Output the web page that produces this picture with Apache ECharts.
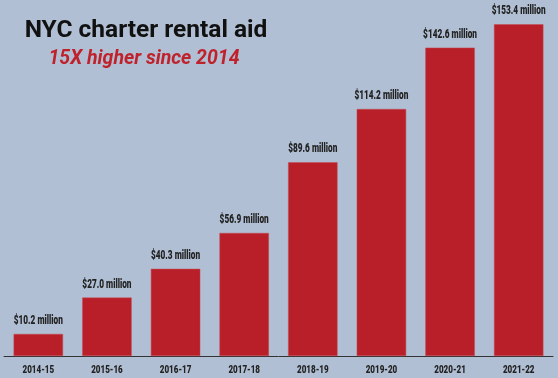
<!DOCTYPE html>
<html><head><meta charset="utf-8">
<script src="https://cdn.jsdelivr.net/npm/echarts@6/dist/echarts.min.js"></script>
<style>html,body{margin:0;padding:0;background:#b0bfd4}#c{width:558px;height:378px}</style>
</head><body><div id="c"></div>
<script>
var categories = ["2014-15","2015-16","2016-17","2017-18","2018-19","2019-20","2020-21","2021-22"];
var values = [10.2, 27.0, 40.3, 56.9, 89.6, 114.2, 142.6, 153.4];
var titleText = "NYC charter rental aid";
var subtitleText = "15X higher since 2014";

function fmt(v){ return '$' + v.toFixed(1) + ' million'; }

var chart = echarts.init(document.getElementById('c'));
chart.setOption({
  backgroundColor: '#b0bfd4',
  animation: false,
  title: [{
    text: titleText, left: 141, textAlign: 'center', top: 13,
    textStyle: {fontFamily: 'Roboto', fontWeight: 'bold', fontSize: 24.5, color: '#111'}
  }, {
    text: subtitleText, left: 139, textAlign: 'center', top: 44,
    textStyle: {fontFamily: 'Roboto', fontWeight: 'bold', fontStyle: 'italic', fontSize: 19.5, color: '#c0222b'}
  }],
  grid: {left: 4, right: 5, top: 10, bottom: 22},
  xAxis: {
    type: 'category', data: categories,
    axisLine: {lineStyle: {color: '#333', width: 1}},
    axisTick: {inside: true, length: 6, lineStyle: {color: '#333'}},
    axisLabel: {show: false}
  },
  yAxis: {type: 'value', min: 0, max: 160, show: false, splitLine: {show: false}},
  series: [{
    type: 'bar', data: values, barCategoryGap: '28%',
    itemStyle: {color: '#b91f28', borderColor: '#c94a50', borderWidth: 0.5}
  }, {
    type: 'custom', silent: true, z: 5,
    data: values.map(function(v, i){ return [i, v]; }),
    renderItem: function(params, api){
      var i = api.value(0), v = api.value(1);
      var top = api.coord([i, v]);
      var base = api.coord([i, 0]);
      return {type: 'group', children: [{
        type: 'text', x: top[0], y: top[1] - 6.5, scaleX: 0.66,
        style: {text: fmt(v), fontFamily: 'Roboto', fontWeight: 900, fontSize: 12.5, fill: '#222', align: 'center', verticalAlign: 'bottom'}
      }, {
        type: 'text', x: base[0], y: base[1] + 14, scaleX: 0.7,
        style: {text: categories[i], fontFamily: 'Roboto', fontWeight: 900, fontSize: 11.5, fill: '#222', align: 'center', verticalAlign: 'middle'}
      }]};
    }
  }]
});
</script></body></html>
